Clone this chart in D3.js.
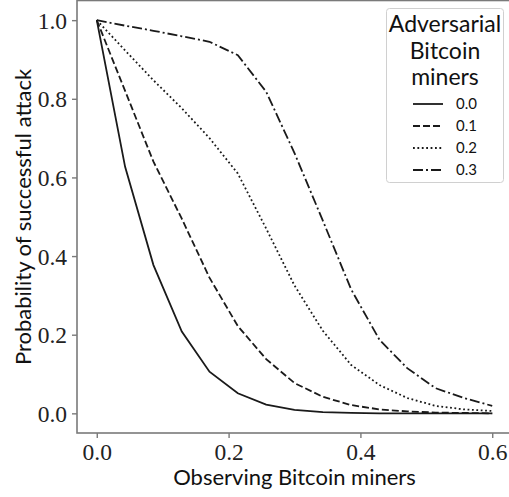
<!DOCTYPE html>
<html>
<head>
<meta charset="utf-8">
<script src="https://cdn.jsdelivr.net/npm/d3@7"></script>
<style>
  html, body { margin: 0; padding: 0; background: #fff; }
  svg { display: block; }
</style>
</head>
<body>
<div id="chart"></div>
<script>
// observing share of miners (x) and attack success probability per adversarial share
const observing = [0, 0.043, 0.086, 0.129, 0.171, 0.214, 0.257, 0.3, 0.343, 0.386, 0.429, 0.471, 0.514, 0.557, 0.6];
const adv00 = [1.0, 0.627, 0.377, 0.208, 0.106, 0.051, 0.022, 0.009, 0.003, 0.001, 0, 0, 0, 0, 0];
const adv01 = [1.0, 0.82, 0.64, 0.495, 0.345, 0.222, 0.138, 0.077, 0.042, 0.021, 0.01, 0.005, 0.002, 0.001, 0];
const adv02 = [1.0, 0.923, 0.847, 0.776, 0.70, 0.61, 0.47, 0.325, 0.21, 0.123, 0.072, 0.039, 0.019, 0.01, 0.006];
const adv03 = [1.0, 0.986, 0.973, 0.959, 0.945, 0.911, 0.818, 0.662, 0.49, 0.315, 0.187, 0.115, 0.064, 0.039, 0.019];
const seriesNames = ["0.0", "0.1", "0.2", "0.3"];
const xTicks = [0.0, 0.2, 0.4, 0.6];
const yTicks = [0.0, 0.2, 0.4, 0.6, 0.8, 1.0];

function renderChart() {
    const width = 509;
    const height = 497;
    const dashes = [null, "7,3", "1.8,2.6", "10,3,2,3"];
    const allSeries = [adv00, adv01, adv02, adv03];

    const svg = d3.select("#chart").append("svg")
        .attr("width", width)
        .attr("height", height);

    const x = d3.scaleLinear().domain([-0.03, 0.63]).range([77, 512]);
    const y = d3.scaleLinear().domain([-0.05, 1.05]).range([433, 0.5]);

    const serif = "'Liberation Serif', 'DejaVu Serif', serif";
    const sans = "Lato, 'DejaVu Sans', sans-serif";

    // lines
    const line = d3.line()
        .x((d, i) => x(observing[i]))
        .y(d => y(d));

    svg.append("g")
        .selectAll("path")
        .data(allSeries)
        .enter()
        .append("path")
        .attr("d", d => line(d))
        .attr("fill", "none")
        .attr("stroke", "#1a1a1a")
        .attr("stroke-width", 1.8)
        .attr("stroke-dasharray", (d, i) => dashes[i]);

    // frame
    svg.append("rect")
        .attr("x", 77).attr("y", 0.5)
        .attr("width", 435).attr("height", 432.5)
        .attr("fill", "none")
        .attr("stroke", "#7a7a7a")
        .attr("stroke-width", 1.6);

    // axes
    const xAxis = svg.append("g")
        .attr("transform", "translate(0,433)")
        .call(d3.axisBottom(x).tickValues(xTicks).tickFormat(d3.format(".1f")).tickSize(5).tickPadding(5));
    const yAxis = svg.append("g")
        .attr("transform", "translate(77,0)")
        .call(d3.axisLeft(y).tickValues(yTicks).tickFormat(d3.format(".1f")).tickSize(5).tickPadding(5));

    [xAxis, yAxis].forEach(g => {
        g.select(".domain").remove();
        g.selectAll(".tick line").attr("stroke", "#7a7a7a").attr("stroke-width", 1.4);
        g.selectAll(".tick text")
            .attr("fill", "#222")
            .style("font-family", serif)
            .style("font-size", "23.5px");
    });
    yAxis.selectAll(".tick text").attr("dy", "0.34em");

    // axis labels
    svg.append("text")
        .attr("x", 294.5).attr("y", 485)
        .attr("text-anchor", "middle")
        .attr("fill", "#111")
        .style("font-family", sans)
        .style("font-size", "22px")
        .text("Observing Bitcoin miners");

    svg.append("text")
        .attr("transform", "translate(31,217) rotate(-90)")
        .attr("text-anchor", "middle")
        .attr("fill", "#111")
        .style("font-family", sans)
        .style("font-size", "22px")
        .text("Probability of successful attack");

    // legend
    const legend = svg.append("g");
    legend.append("rect")
        .attr("x", 386.5).attr("y", 8.5)
        .attr("width", 117).attr("height", 174)
        .attr("rx", 3)
        .attr("fill", "#fff")
        .attr("fill-opacity", 0.85)
        .attr("stroke", "#d0d0d0");

    ["Adversarial", "Bitcoin", "miners"].forEach((t, i) => {
        legend.append("text")
            .attr("x", 445).attr("y", 32 + i * 26.5)
            .attr("text-anchor", "middle")
            .attr("fill", "#111")
            .style("font-family", sans)
            .style("font-size", "23px")
            .text(t);
    });

    const entries = legend.selectAll("g.entry")
        .data(seriesNames)
        .enter()
        .append("g")
        .attr("transform", (d, i) => `translate(0,${104 + i * 22})`);

    entries.append("line")
        .attr("x1", 413).attr("x2", 443)
        .attr("stroke", "#1a1a1a")
        .attr("stroke-width", 1.8)
        .attr("stroke-dasharray", (d, i) => dashes[i]);

    entries.append("text")
        .attr("x", 456).attr("y", 5)
        .attr("fill", "#111")
        .style("font-family", sans)
        .style("font-size", "15px")
        .text(d => d);
}

renderChart();
</script>
</body>
</html>
